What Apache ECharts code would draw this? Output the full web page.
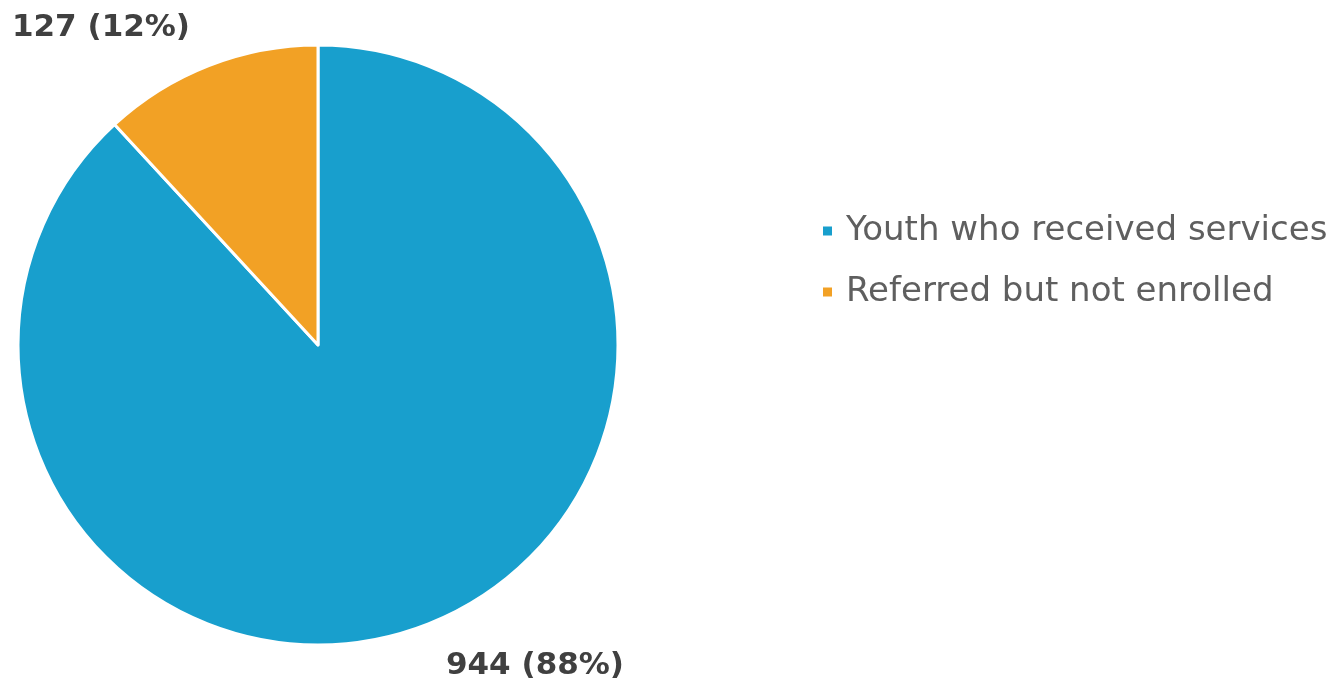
<!DOCTYPE html>
<html>
<head>
<meta charset="utf-8">
<script src="https://cdn.jsdelivr.net/npm/echarts@6/dist/echarts.min.js"></script>
<style>
  html, body { margin: 0; padding: 0; background: #ffffff; }
  #chart { width: 1332px; height: 688px; }
</style>
</head>
<body>
<div id="chart"></div>
<script>
// Enrollment outcome for referred youth
const categories = ['Youth who received services', 'Referred but not enrolled'];
const counts = [944, 127];
const percents = ['88%', '12%'];
const colors = ['#189fcd', '#f2a125'];

// Where each slice's value label sits on the canvas
const labelSpots = [
  { x: 535, y: 666 },
  { x: 101, y: 28 }
];

const chart = echarts.init(document.getElementById('chart'));

chart.setOption({
  animation: false,
  color: colors,
  legend: {
    orient: 'vertical',
    left: 816,
    top: 209,
    icon: 'rect',
    itemWidth: 11,
    itemHeight: 11,
    itemGap: 27,
    textStyle: {
      fontFamily: 'DejaVu Sans',
      fontSize: 34,
      color: '#5f5f5f',
      padding: [0, 0, 0, 8]
    },
    data: categories
  },
  series: [{
    type: 'pie',
    center: [318, 345],
    radius: [0, 300],
    startAngle: 90,
    clockwise: true,
    itemStyle: { borderColor: '#ffffff', borderWidth: 3 },
    label: {
      show: true,
      overflow: 'none',
      width: 400,
      formatter: (p) => p.value + ' (' + percents[p.dataIndex] + ')',
      fontFamily: 'DejaVu Sans',
      fontWeight: 'bold',
      fontSize: 31,
      color: '#404040'
    },
    labelLine: { show: false },
    labelLayout: (params) => ({
      x: labelSpots[params.dataIndex].x,
      y: labelSpots[params.dataIndex].y,
      align: 'center',
      verticalAlign: 'middle'
    }),
    emphasis: { disabled: true },
    data: categories.map((name, i) => ({ name: name, value: counts[i] }))
  }]
});
</script>
</body>
</html>
